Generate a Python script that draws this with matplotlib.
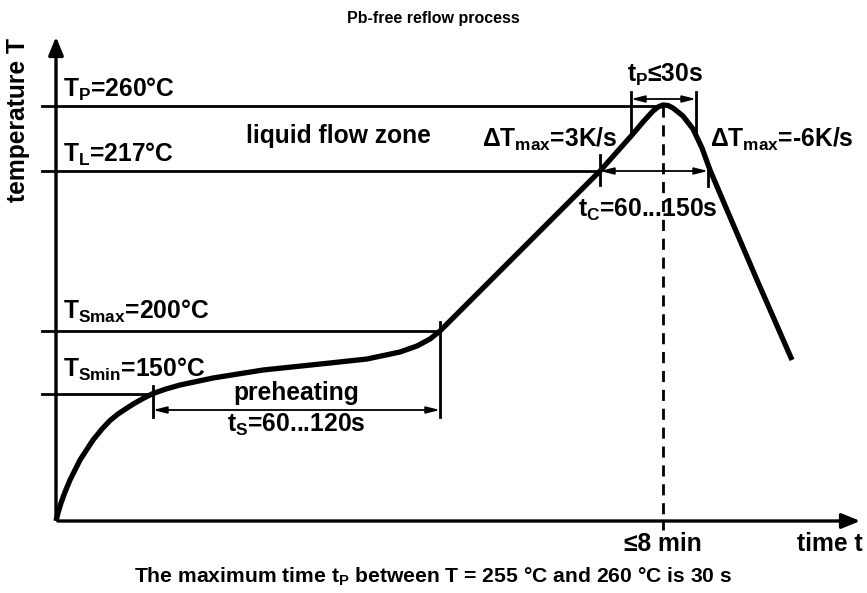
import matplotlib
matplotlib.use('Agg')
import matplotlib.pyplot as plt

plt.rcParams['font.family'] = ['Liberation Sans', 'DejaVu Sans']
plt.rcParams['font.weight'] = 'bold'
plt.rcParams['mathtext.fontset'] = 'custom'
plt.rcParams['mathtext.rm'] = 'Liberation Sans:bold'
plt.rcParams['mathtext.it'] = 'Liberation Sans:bold'
plt.rcParams['mathtext.bf'] = 'Liberation Sans:bold'

# schematic profile (time units, temperature units; origin at axis corner)
curve_t = [0, 2, 5, 9, 14, 24, 37, 46, 54, 62, 71, 79, 87, 97, 110, 124, 157, 207, 274,
           311, 344, 361, 374, 384, 394, 411, 444, 477, 511, 544, 576, 587, 597, 602,
           607, 612, 617, 627, 637, 646, 654, 671, 701, 736]
curve_T = [0, 8, 18, 29, 41, 61, 81, 92, 100.5, 107, 113, 118, 122.5, 127.5, 132, 136,
           143, 151, 158, 162, 169, 175, 182, 190, 200, 217, 250, 283, 317, 350, 386,
           399, 410, 414, 416, 415.5, 413, 405, 392, 373, 351, 311, 241, 161]

# temperature levels and where their guide lines end
levels = {'TP': 415, 'TL': 350, 'TSmax': 190, 'TSmin': 127}
level_end = {'TP': 607, 'TL': 544, 'TSmax': 384, 'TSmin': 97}
level_text = {'TP': '$T_{P}$=260°C', 'TL': '$T_{L}$=217°C',
              'TSmax': '$T_{Smax}$=200°C', 'TSmin': '$T_{Smin}$=150°C'}

t_peak = 607
ts_start, ts_end = 97, 384
tc_start, tc_end = 544, 652
tp_start, tp_end = 575, 640

fig = plt.figure(figsize=(8.67, 5.93), dpi=100)
ax = fig.add_axes([0, 0, 1, 1])
ax.set_xlim(-56, 811)
ax.set_ylim(-72, 521)
ax.axis('off')

fs = 17.7

# axes with arrows
ax.annotate('', xy=(0, 487), xytext=(0, -1),
            arrowprops=dict(arrowstyle='-|>,head_length=1.1,head_width=0.45', lw=2.4, color='black'))
ax.annotate('', xy=(807, 0), xytext=(-1, 0),
            arrowprops=dict(arrowstyle='-|>,head_length=1.1,head_width=0.45', lw=2.4, color='black'))

# guide lines and labels
for k in levels:
    ax.plot([-14, level_end[k]], [levels[k], levels[k]], color='black', lw=2)

ax.text(7, 424, level_text['TP'], fontsize=fs, va='baseline')
ax.text(7, 359, level_text['TL'], fontsize=fs, va='baseline')
ax.text(7, 202, level_text['TSmax'], fontsize=fs, va='baseline')
ax.text(7, 144, level_text['TSmin'], fontsize=fs, va='baseline')

# profile curve
ax.plot(curve_t, curve_T, color='black', lw=3.8, solid_capstyle='butt', solid_joinstyle='round')

# peak dashed line
ax.plot([t_peak, t_peak], [levels['TP'], -9], color='black', lw=2, ls=(0, (4, 2.8)))

# ticks
ax.plot([ts_start, ts_start], [104, 135], color='black', lw=2)
ax.plot([ts_end, ts_end], [104, 199], color='black', lw=2)
ax.plot([tc_start, tc_start], [336, 366], color='black', lw=2)
ax.plot([tc_end, tc_end], [335, 355], color='black', lw=2)
ax.plot([tp_start, tp_start], [386, 429], color='black', lw=2)
ax.plot([tp_end, tp_end], [389, 429], color='black', lw=2)

arrow = dict(arrowstyle='<|-|>,head_length=0.8,head_width=0.2', lw=1.3, color='black',
             shrinkA=0, shrinkB=0)
ax.annotate('', xy=(ts_end, 111), xytext=(ts_start, 111), arrowprops=arrow)
ax.annotate('', xy=(tc_end, 350), xytext=(tc_start, 350), arrowprops=arrow)
ax.annotate('', xy=(tp_end, 422), xytext=(tp_start, 422), arrowprops=arrow)

# annotations
ax.text(282, 378, 'liquid flow zone', fontsize=fs, ha='center', va='baseline')
ax.text(240, 121, 'preheating', fontsize=fs, ha='center', va='baseline')
ax.text(240, 89, '$t_{S}$=60...120s', fontsize=fs, ha='center', va='baseline')
ax.text(561, 374, 'Δ$T_{max}$=3K/s', fontsize=fs, ha='right', va='baseline')
ax.text(654, 374, 'Δ$T_{max}$=-6K/s', fontsize=fs, ha='left', va='baseline')
ax.text(522, 304, '$t_{C}$=60...150s', fontsize=fs, ha='left', va='baseline')
ax.text(609, 439, '$t_{P}$≤30s', fontsize=fs, ha='center', va='baseline')
ax.text(607, -30, '≤8 min', fontsize=fs, ha='center', va='baseline')
ax.text(741, -30, 'time t', fontsize=fs, ha='left', va='baseline')
ax.text(-38, 401, 'temperature T', fontsize=fs, ha='center', va='center', rotation=90)

fig.text(0.5, 1 - 18 / 593, 'Pb-free reflow process', fontsize=11.5, ha='center', va='center')
fig.text(0.5, 1 - 577 / 593, 'The maximum time $t_{P}$ between T = 255 °C and 260 °C is 30 s',
         fontsize=15.2, ha='center', va='center')

fig.savefig('out.png', dpi=100)
